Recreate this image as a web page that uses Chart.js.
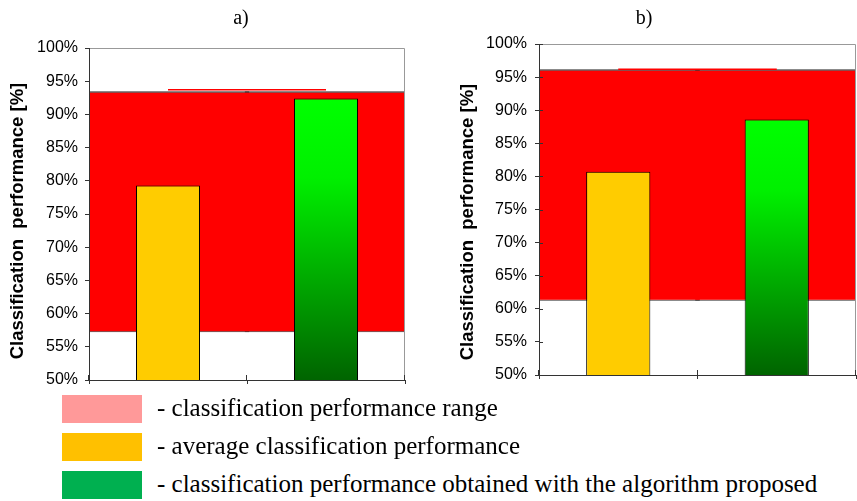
<!DOCTYPE html>
<html><head><meta charset="utf-8">
<script src="https://cdn.jsdelivr.net/npm/chart.js@4"></script>
<style>
html,body{margin:0;padding:0;background:#fff;width:857px;height:501px;overflow:hidden;position:relative}
canvas{position:absolute;top:0}
.ttl{position:absolute;font-family:'Liberation Serif','Times New Roman',serif;font-size:20px;line-height:20px;top:7px;transform:translateX(-50%);color:#000}
.sw{position:absolute;left:62px;width:80px;height:28px}
.lt{position:absolute;left:157px;font-family:'Liberation Serif','Times New Roman',serif;font-size:25px;line-height:28px;white-space:nowrap;color:#000}
</style></head><body>
<canvas id="ca" width="430" height="400" style="left:0"></canvas>
<canvas id="cb" width="427" height="400" style="left:430px"></canvas>
<div class="ttl" style="left:241px">a)</div>
<div class="ttl" style="left:644px">b)</div>
<div id="legend"></div>
<script>
// ---- data ----
const categories = ['average', 'proposed'];
const yMin = 50, yMax = 100, yStep = 5;
const axisTitle = 'Classification  performance [%]';
const rangeA = [57.2, 93.5];
const rangeLineA = [93.7, 93.7];
const valuesA = [79.3, 92.4];
const rangeB = [61.2, 96.2];
const rangeLineB = [96.2, 96.2];
const valuesB = [80.7, 88.6];
const legendLabels = [
  '- classification performance range',
  '- average classification performance',
  '- classification performance obtained with the algorithm proposed'
];
const legendColors = ['#FF9999', '#FFC000', '#00B050'];

// ---- legend ----
const lg = document.getElementById('legend');
const lgTops = [395, 433, 471];
legendLabels.forEach((t, i) => {
  const s = document.createElement('div'); s.className = 'sw';
  s.style.top = lgTops[i] + 'px'; s.style.background = legendColors[i]; lg.appendChild(s);
  const d = document.createElement('div'); d.className = 'lt';
  d.style.top = (lgTops[i] - 1.5) + 'px'; d.textContent = t; lg.appendChild(d);
});

function barFill(ctx) {
  if (ctx.dataIndex === 0) return '#FFCC00';
  const chart = ctx.chart;
  if (!chart.chartArea) return '#00CC00';
  const y = chart.scales.y;
  const top = y.getPixelForValue(ctx.raw), bot = y.getPixelForValue(yMin);
  const g = chart.ctx.createLinearGradient(0, top, 0, bot);
  g.addColorStop(0, '#00FF00');
  g.addColorStop(0.28, '#00F000');
  g.addColorStop(1, '#006400');
  return g;
}

function makeChart(id, range, line, values, L) {
  const framePlugin = {
    id: 'frame',
    afterDatasetsDraw(chart) {
      const {ctx, chartArea: a, scales: {x, y}} = chart;
      ctx.save();
      ctx.lineWidth = 1;
      ctx.strokeStyle = '#999';
      ctx.beginPath();
      ctx.moveTo(a.left, a.top + 0.5);
      ctx.lineTo(a.right - 0.5, a.top + 0.5);
      ctx.lineTo(a.right - 0.5, a.bottom);
      ctx.stroke();
      ctx.strokeStyle = '#333';
      ctx.beginPath();
      if (L.yInner) {
        y.ticks.forEach((t, i) => {
          const py = Math.round(y.getPixelForTick(i)) + 0.5;
          ctx.moveTo(a.left, py); ctx.lineTo(a.left + L.yInner, py);
        });
      }
      const xs = [a.left, (x.getPixelForValue(0) + x.getPixelForValue(1)) / 2, a.right];
      xs.forEach(px => {
        px = Math.round(px) - 0.5;
        ctx.moveTo(px, a.bottom); ctx.lineTo(px, a.bottom - 5);
      });
      ctx.stroke();
      ctx.restore();
    },
    afterDraw(chart) {
      const ctx = chart.ctx;
      ctx.save();
      ctx.translate(L.titleX, L.titleY);
      ctx.rotate(-Math.PI / 2);
      ctx.textAlign = 'center';
      ctx.textBaseline = 'middle';
      ctx.fillStyle = '#000';
      ctx.font = "bold 18.5px 'Liberation Sans', Arial, sans-serif";
      ctx.fillText(axisTitle, 0, 0);
      ctx.restore();
    }
  };
  return new Chart(document.getElementById(id), {
    data: {
      labels: categories,
      datasets: [
        {
          type: 'bar', data: categories.map(() => range.slice()),
          backgroundColor: '#FF0000', borderColor: '#333',
          borderWidth: {top: 1.5, bottom: 1, left: 0, right: 0}, borderSkipped: false,
          barPercentage: 1.03, categoryPercentage: 1, grouped: false, order: 3
        },
        {
          type: 'line', data: line, borderColor: '#FF0000', borderWidth: 1.5,
          pointRadius: 0, fill: false, order: 2
        },
        {
          type: 'bar', data: values, backgroundColor: barFill, borderColor: '#000',
          borderWidth: 1, barPercentage: 0.405, categoryPercentage: 1, grouped: false, order: 1
        }
      ]
    },
    options: {
      responsive: false, animation: false,
      layout: {padding: L.padding},
      plugins: {legend: {display: false}, tooltip: {enabled: false}, title: {display: false}},
      scales: {
        x: {
          offset: true,
          ticks: {display: false},
          grid: {drawOnChartArea: false, drawTicks: true, tickLength: 4, color: '#333', offset: true},
          border: {display: true, color: '#333', width: 1, z: 1}
        },
        y: {
          min: yMin, max: yMax,
          ticks: {stepSize: yStep, padding: L.tickPad, color: '#000',
            font: {family: "'Liberation Sans', Arial, sans-serif", size: 16},
            callback: v => v + '%'},
          grid: {drawOnChartArea: false, drawTicks: true, tickLength: 4, color: '#333'},
          border: {display: true, color: '#333', width: 1, z: 1},
          afterFit(s) { s.width = L.axisWidth; s.paddingTop = 0; s.paddingBottom = 0; }
        }
      }
    },
    plugins: [framePlugin]
  });
}

makeChart('ca', rangeA, rangeLineA, valuesA,
  {axisWidth: 89, tickPad: 7, titleX: 18, titleY: 221, yInner: 0, padding: {left: 0, right: 25, top: 48, bottom: 16}});
makeChart('cb', rangeB, rangeLineB, valuesB,
  {axisWidth: 109, tickPad: 8, titleX: 38, titleY: 222, yInner: 4, padding: {left: 0, right: 1, top: 44, bottom: 21}});
</script>
</body></html>
